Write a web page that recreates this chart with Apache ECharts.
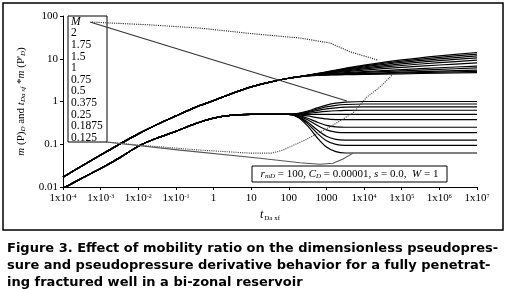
<!DOCTYPE html>
<html><head><meta charset="utf-8">
<script src="https://cdn.jsdelivr.net/npm/echarts@6/dist/echarts.min.js"></script>
<style>html,body{margin:0;padding:0;background:#fff}#c{width:507px;height:289px}</style>
</head><body><div id="c"></div>
<script>
// dimensionless time samples
const tD = [0.0001,0.000316,0.001,0.00316,0.01,0.0316,0.1,0.316,1,3.16,10,31.6,100,
            178,316,562,1000,1780,3160,10000,100000,1000000,10000000];
// mobility ratios drawn (curves) and those listed in the text box
const mobilityRatios = [2,1.75,1.5,1.25,1,0.75,0.5,0.375,0.25,0.1875,0.125];
const legendLabels = ['2','1.75','1.5','1','0.75','0.5','0.375','0.25','0.1875','0.125'];

// common early-time part (t = 1e-4 ... 100)
const pdEarly   = [0.017,0.031,0.056,0.1,0.175,0.29,0.46,0.72,1.05,1.55,2.2,2.85,3.5];
const derEarly  = [0.0093,0.016,0.027,0.048,0.09,0.14,0.2,0.3,0.41,0.48,0.5,0.5,0.5];

// late-time pseudopressure (t = 178 ... 1e7)
const pdLate_2      = [3.80,4.12,4.49,4.94,5.44,5.98,7.11,9.41,11.71,14.02];
const pdLate_1_75   = [3.79,4.11,4.47,4.87,5.32,5.80,6.80,8.81,10.82,12.84];
const pdLate_1_5    = [3.79,4.10,4.44,4.80,5.20,5.62,6.47,8.20,9.93,11.65];
const pdLate_1_25   = [3.79,4.09,4.40,4.73,5.08,5.43,6.14,7.58,9.02,10.46];
const pdLate_1      = [3.79,4.08,4.36,4.65,4.94,5.23,5.80,6.95,8.11,9.26];
const pdLate_0_75   = [3.79,4.06,4.31,4.55,4.77,4.98,5.42,6.28,7.14,8.01];
const pdLate_0_5    = [3.78,4.03,4.25,4.42,4.57,4.72,5.01,5.58,6.16,6.73];
const pdLate_0_375  = [3.78,4.02,4.20,4.35,4.46,4.57,4.79,5.22,5.65,6.09];
const pdLate_0_25   = [3.77,4.00,4.16,4.26,4.34,4.42,4.56,4.85,5.14,5.43];
const pdLate_0_1875 = [3.77,3.98,4.12,4.21,4.27,4.33,4.44,4.65,4.87,5.09];
const pdLate_0_125  = [3.77,3.97,4.08,4.15,4.19,4.23,4.30,4.45,4.59,4.74];

// late-time pseudopressure derivative (t = 178 ... 1e7)
const derLate_2      = [0.528,0.595,0.707,0.824,0.914,0.966,1.0,1.0,1.0,1.0];
const derLate_1_75   = [0.523,0.575,0.661,0.748,0.814,0.851,0.875,0.875,0.875,0.875];
const derLate_1_5    = [0.516,0.553,0.612,0.670,0.711,0.735,0.75,0.75,0.75,0.75];
const derLate_1_25   = [0.509,0.528,0.559,0.587,0.607,0.618,0.625,0.625,0.625,0.625];
const derLate_1      = [0.5,0.5,0.5,0.5,0.5,0.5,0.5,0.5,0.5,0.5];
const derLate_0_75   = [0.489,0.459,0.421,0.392,0.378,0.375,0.375,0.375,0.375,0.375];
const derLate_0_5    = [0.473,0.406,0.33,0.277,0.255,0.25,0.25,0.25,0.25,0.25];
const derLate_0_375  = [0.462,0.373,0.278,0.217,0.193,0.1875,0.1875,0.1875,0.1875,0.1875];
const derLate_0_25   = [0.448,0.33,0.218,0.154,0.13,0.125,0.125,0.125,0.125,0.125];
const derLate_0_1875 = [0.437,0.303,0.183,0.121,0.099,0.094,0.094,0.094,0.094,0.094];
const derLate_0_125  = [0.424,0.268,0.144,0.086,0.067,0.0625,0.0625,0.0625,0.0625,0.0625];

const pdLate  = [pdLate_2,pdLate_1_75,pdLate_1_5,pdLate_1_25,pdLate_1,pdLate_0_75,pdLate_0_5,pdLate_0_375,pdLate_0_25,pdLate_0_1875,pdLate_0_125];
const derLate = [derLate_2,derLate_1_75,derLate_1_5,derLate_1_25,derLate_1,derLate_0_75,derLate_0_5,derLate_0_375,derLate_0_25,derLate_0_1875,derLate_0_125];

// annotation arrows (data coordinates: [tD, value])
const arrowTopSolid    = [[0.00052,72],[3500,1.03]];
const arrowTopDotted   = [[0.00059,72],[0.0204,62],[0.44,52],[12.6,38],[200,30.5],[1230,23.4],[4270,14.5],[23400,9.3]];
const arrowLowDotted   = [[0.0014,0.113],[0.0205,0.091],[0.436,0.073],[9.3,0.062],[35.7,0.062],[70,0.073],[269,0.126],[1240,0.254],[5070,0.538],[11900,1.27],[26500,2.18],[55200,4.17]];
const arrowLowSolid    = [[0.0014,0.113],[0.128,0.073],[17.1,0.047],[198,0.037],[675,0.034],[1490,0.036],[2750,0.045],[5070,0.062]];

const xTickLabels = ['1x10^-4','1x10^-3','1x10^-2','1x10^-1','1','10','100','1000','1x10^4','1x10^5','1x10^6','1x10^7'];
const yTickLabels = ['0.01','0.1','1','10','100'];

const serif = '"Liberation Serif", "Times New Roman", serif';
const series = [];
mobilityRatios.forEach((m, k) => {
  const pd = pdEarly.concat(pdLate[k]);
  const der = derEarly.concat(derLate[k]);
  series.push({type:'line', name:'pD M='+m, data: tD.map((t,i)=>[t,pd[i]]), showSymbol:false, smooth:0.3,
    lineStyle:{color:'#000', width:1.2}, z:3, silent:true});
  series.push({type:'line', name:'dPD M='+m, data: tD.map((t,i)=>[t,der[i]]), showSymbol:false, smooth:0.3,
    lineStyle:{color:'#000', width:1.2}, z:3, silent:true});
});
function arrow(coords, type, color) {
  return {type:'lines', coordinateSystem:'cartesian2d', polyline:true, silent:true, z:5,
    symbol:['none','arrow'], symbolSize:5,
    lineStyle:{color:color, width:1.1, type:type, opacity:1},
    data:[{coords:coords}]};
}
series.push(arrow(arrowTopSolid,'solid','#333'));
series.push(arrow(arrowTopDotted,'dotted','#222'));
series.push(arrow(arrowLowDotted,'dotted','#444'));
series.push(arrow(arrowLowSolid,'solid','#555'));

const chart = echarts.init(document.getElementById('c'), null, {renderer:'canvas'});
chart.setOption({
  animation:false,
  backgroundColor:'#fff',
  grid:{left:63, right:30, top:16, bottom:102},
  xAxis:{type:'log', logBase:10, min:0.0001, max:10000000, interval:1,
    splitLine:{show:false},
    axisLine:{lineStyle:{color:'#000', width:1}},
    axisTick:{length:3, lineStyle:{color:'#000'}},
    axisLabel:{color:'#000', fontFamily:serif, fontSize:11, margin:6, showMinLabel:true, showMaxLabel:true,
      formatter: v => { const s = xTickLabels[Math.round(Math.log10(v))+4]; if(!s) return '';
        const p = s.split('^'); return p.length>1 ? p[0]+'{e|'+p[1]+'}' : p[0]; },
      rich:{e:{fontSize:6, fontFamily:serif, color:'#000', verticalAlign:'top', padding:[0,0,3,0]}}},
    name:'{i|t}{s|Da xf}', nameLocation:'middle', nameGap:16,
    nameTextStyle:{rich:{i:{fontFamily:serif, fontStyle:'italic', fontSize:12, color:'#000'},
                         s:{fontFamily:serif, fontSize:7, color:'#000', padding:[6,0,0,1]}}}
  },
  yAxis:{type:'log', logBase:10, min:0.01, max:100, interval:1,
    splitLine:{show:false},
    axisLine:{show:true, lineStyle:{color:'#000', width:1}},
    axisTick:{show:true, length:3, lineStyle:{color:'#000'}},
    axisLabel:{color:'#000', fontFamily:serif, fontSize:11, margin:5,
      formatter: v => yTickLabels[Math.round(Math.log10(v))+2] || ''},
    name:'{i|m} (P){s|D} and {i|t}{s|Da xf} *{i|m} (P\'{s|D})', nameLocation:'middle', nameGap:36, nameRotate:90,
    nameTextStyle:{rich:{i:{fontFamily:serif, fontStyle:'italic', fontSize:11, color:'#000'},
                         s:{fontFamily:serif, fontStyle:'italic', fontSize:7, color:'#000', padding:[5,0,0,0]}},
                   fontFamily:serif, fontSize:11, color:'#000'}
  },
  graphic:[
    {type:'rect', shape:{x:3, y:3, width:500, height:227}, style:{fill:'none', stroke:'#000', lineWidth:1.5}, z:0, silent:true},
    {type:'rect', shape:{x:68, y:16, width:39, height:126}, style:{fill:'#fff', stroke:'#000', lineWidth:1}, z:1, silent:true},
    {type:'text', x:71, y:16, z:2, silent:true, style:{
      text:'{i|M}\n'+legendLabels.join('\n'), lineHeight:11.6, fontFamily:serif, fontSize:11.5, fill:'#000',
      rich:{i:{fontFamily:serif, fontStyle:'italic', fontSize:11.5, fill:'#000', lineHeight:11.6}}}},
    {type:'rect', shape:{x:252, y:166, width:195, height:16}, style:{fill:'#fff', stroke:'#000', lineWidth:1}, z:10, silent:true},
    {type:'text', x:349.5, y:174, z:11, silent:true, style:{
      text:'{i|r}{s|mD} = 100, {i|C}{s|D} = 0.00001, {i|s} = 0.0,  {i|W} = 1', align:'center', verticalAlign:'middle',
      fontFamily:serif, fontSize:11, fill:'#000',
      rich:{i:{fontFamily:serif, fontStyle:'italic', fontSize:11, fill:'#000'},
            s:{fontFamily:serif, fontStyle:'italic', fontSize:7, fill:'#000', padding:[5,0,0,0]}}}},
    {type:'text', x:7, y:240, z:2, silent:true, style:{
      text:'Figure 3. Effect of mobility ratio on the dimensionless pseudopres-\nsure and pseudopressure derivative behavior for a fully penetrat-\ning fractured well in a bi-zonal reservoir',
      font:'bold 13px "DejaVu Sans", sans-serif', lineHeight:17, fill:'#000'}}
  ],
  series: series
});
</script></body></html>
